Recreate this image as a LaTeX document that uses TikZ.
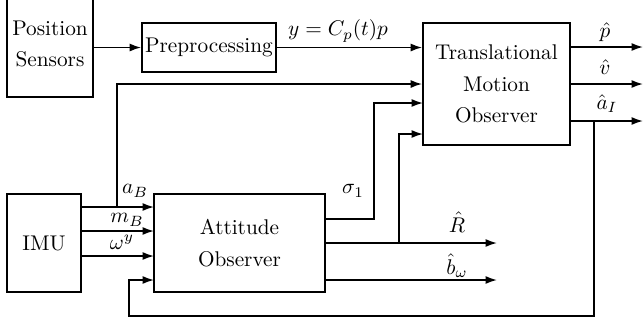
\documentclass[tikz,border=0pt]{standalone}
\usetikzlibrary{arrows.meta}
\begin{document}
\begin{tikzpicture}[x=0.47pt,y=-0.47pt,
  blk/.style={draw, line width=0.8pt, rectangle, align=center, inner sep=0pt,
    font=\fontsize{10}{14.7}\selectfont},
  sig/.style={line width=0.8pt},
  arr/.style={sig, -{Latex[length=5.4pt,width=3.8pt]}},
  lbl/.style={inner sep=0pt}
]
\useasboundingbox (0,0) rectangle (644,321);

% blocks
\node[blk, minimum width=40.4pt, minimum height=49.8pt] (ps)  at (50,44)    {Position\\Sensors};
\node[blk, minimum width=63pt,   minimum height=23pt]   (pp)  at (209,47.5) {Preprocessing};
\node[blk, minimum width=69.1pt, minimum height=57.3pt] (tmo) at (496.5,84) {Translational\\Motion\\Observer};
\node[blk, minimum width=34.8pt, minimum height=46.1pt] (imu) at (44,243)   {IMU};
\node[blk, minimum width=80.4pt, minimum height=46.1pt] (ao)  at (239.5,243){Attitude\\Observer};

% ports and junctions
\coordinate (i1) at (81,207);   \coordinate (a1) at (154,207);
\coordinate (i2) at (81,231);   \coordinate (a2) at (154,231);
\coordinate (i3) at (81,256);   \coordinate (a3) at (154,256);
\coordinate (a4) at (154,280);
\coordinate (aBj) at (117,207);
\coordinate (t3) at (423,103);
\coordinate (t4) at (423,134);
\coordinate (s1) at (325,219);
\coordinate (r0) at (325,243);  \coordinate (rj) at (399,243); \coordinate (rend) at (497,243);
\coordinate (b0) at (325,280);  \coordinate (bend) at (497,280);
\coordinate (o1) at (570,47);   \coordinate (e1) at (643,47);
\coordinate (o2) at (570,84);   \coordinate (e2) at (643,84);
\coordinate (o3) at (570,121);  \coordinate (e3) at (643,121);
\coordinate (aIj) at (594,121);
\coordinate (fbc) at (129,316);

% connectors
\draw[arr] (pp.west -| ps.east) -- (pp.west);
\draw[arr] (pp.east) -- (pp.east -| tmo.west);
\draw[arr] (o1) -- (e1);
\draw[arr] (o2) -- (e2);
\draw[arr] (o3) -- (e3);
\draw[arr] (i1) -- (a1);
\draw[arr] (i2) -- (a2);
\draw[arr] (i3) -- (a3);
\draw[arr] (aBj) |- (tmo.west);
\draw[arr] (s1) -- ++(49,0) |- (t3);
\draw[arr] (r0) -- (rend);
\draw[arr] (rj) |- (t4);
\draw[arr] (b0) -- (bend);
\draw[arr] (aIj) |- (fbc) |- (a4);

% signal labels
\node[lbl] (ly)  at (338,31)  {$y = C_p(t)p$};
\node[lbl] (lp)  at (605,32)  {$\hat{p}$};
\node[lbl] (lv)  at (605,67)  {$\hat{v}$};
\node[lbl] (la)  at (607,104) {$\hat{a}_I$};
\node[lbl] (laB) at (135,191) {$a_B$};
\node[lbl] (lmB) at (127,220) {$m_B$};
\node[lbl] (lw)  at (122,242) {$\omega^y$};
\node[lbl] (ls)  at (353,191) {$\sigma_1$};
\node[lbl] (lR)  at (457,222) {$\hat{R}$};
\node[lbl] (lb)  at (457,266) {$\hat{b}_\omega$};
\end{tikzpicture}
\end{document}
